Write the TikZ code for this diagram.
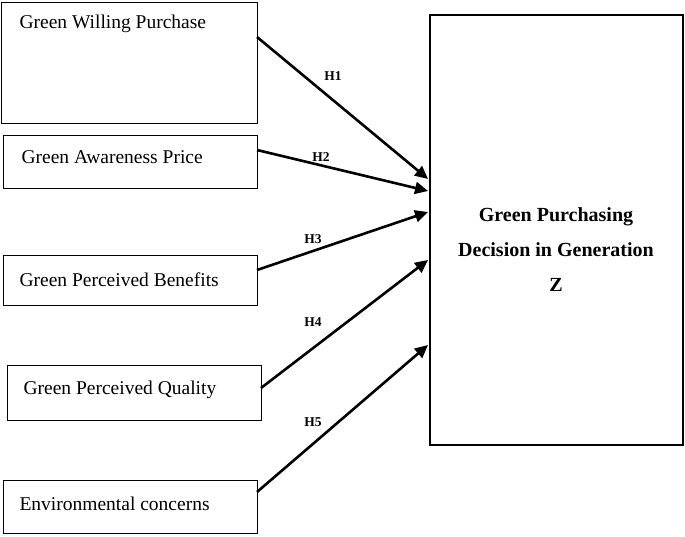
\documentclass[tikz,border=0pt]{standalone}
\usepackage{fontspec}
\setmainfont{Liberation Serif}
\usetikzlibrary{arrows.meta}
\begin{document}
\begin{tikzpicture}[x=1pt,y=-1pt,
  lab/.style={font=\fontsize{13.5}{15}\selectfont\bfseries},
  arr/.style={line width=2.6pt,-{Triangle[length=13pt,width=12pt]}},
  txt/.style={font=\fontsize{19.5}{22}\selectfont,anchor=west}]
\useasboundingbox (0,0) rectangle (685,537);
\draw[thick] (1,2) rectangle (257,123);
\node[txt] (t1) at (16,24) {Green Willing Purchase};
\draw[thick] (3,135) rectangle (257,188);
\node[txt] (t2) at (18,157) {Green Awareness Price};
\draw[thick] (3,255) rectangle (257,305);
\node[txt] (t3) at (16,280) {Green Perceived Benefits};
\draw[thick] (7,365) rectangle (261,420);
\node[txt] (t4) at (20,390) {Green Perceived Quality};
\draw[thick] (3,480) rectangle (257,533);
\node[txt] (t5) at (16,504) {Environmental concerns};
\draw[line width=2pt] (430,15) rectangle (683,445);
\node[align=center,font=\fontsize{20}{35}\selectfont\bfseries] (z) at (556,250)
  {Green Purchasing\\Decision in Generation\\Z};
\coordinate (s1) at (257,37); \coordinate (e1) at (428,179);
\coordinate (s2) at (257,150); \coordinate (e2) at (428,191);
\coordinate (s3) at (257,270); \coordinate (e3) at (428,212);
\coordinate (s4) at (261,388); \coordinate (e4) at (428,260);
\coordinate (s5) at (257,492); \coordinate (e5) at (428,345);
\draw[arr] (s1) -- (e1); \draw[arr] (s2) -- (e2); \draw[arr] (s3) -- (e3);
\draw[arr] (s4) -- (e4); \draw[arr] (s5) -- (e5);
\node[lab] (h1) at (333,76) {H1};
\node[lab] (h2) at (321,157) {H2};
\node[lab] (h3) at (313,239) {H3};
\node[lab] (h4) at (313,322) {H4};
\node[lab] (h5) at (313,422) {H5};
\end{tikzpicture}
\end{document}
